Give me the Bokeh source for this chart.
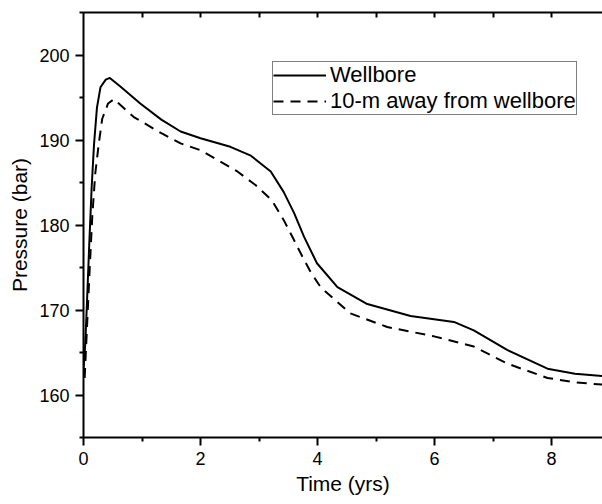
from bokeh.plotting import figure
from bokeh.models import Range1d, FixedTicker, LinearAxis, Legend, LegendItem
from bokeh.embed import file_html
from bokeh.resources import INLINE

# Data
t_well = [0.0, 0.03, 0.06, 0.10, 0.14, 0.18, 0.23, 0.29, 0.38, 0.45, 0.63, 0.97, 1.33, 1.66,
          2.0, 2.51, 2.85, 3.2, 3.42, 3.6, 3.77, 3.99, 4.34, 4.85, 5.59, 6.33, 6.67, 7.24,
          7.93, 8.4, 8.9]
p_well = [163.0, 166.0, 171.0, 178.0, 184.5, 189.5, 193.8, 196.2, 197.1, 197.3, 196.3, 194.3,
          192.4, 191.0, 190.2, 189.2, 188.2, 186.3, 183.9, 181.4, 178.6, 175.5, 172.7, 170.7,
          169.3, 168.6, 167.6, 165.3, 163.1, 162.5, 162.2]

t_away = [0.02, 0.06, 0.10, 0.15, 0.20, 0.26, 0.32, 0.42, 0.52, 0.86, 1.33, 1.66, 2.0, 2.63,
          2.94, 3.22, 3.42, 3.6, 3.74, 3.88, 4.05, 4.56, 5.19, 5.99, 6.67, 7.24, 7.93, 8.4, 8.9]
p_away = [162.0, 168.0, 174.0, 181.0, 186.0, 189.5, 192.5, 194.3, 194.8, 192.7, 190.8, 189.6,
          188.8, 186.3, 184.7, 182.9, 180.6, 178.2, 176.3, 174.5, 172.7, 169.6, 168.0, 166.9,
          165.7, 163.7, 162.0, 161.5, 161.2]

x_ticks = [0, 2, 4, 6, 8]
x_minor = [1, 3, 5, 7]
top_ticks = [1, 2, 3, 4, 5, 6, 7, 8]
y_ticks = [160, 170, 180, 190, 200]
y_minor = [155, 165, 175, 185, 195, 205]

FONT = "Liberation Sans"

p = figure(width=602, height=504, output_backend="svg", toolbar_location=None,
           x_range=Range1d(0, 8.87), y_range=Range1d(155, 205),
           min_border_left=83, min_border_right=0, min_border_top=12, min_border_bottom=67)
p.grid.visible = False
p.outline_line_color = None
p.background_fill_color = "white"
p.border_fill_color = "white"

r1 = p.line(t_well, p_well, line_color="black", line_width=2)
r2 = p.line(t_away, p_away, line_color="black", line_width=2, line_dash="10 7")

p.xaxis.ticker = FixedTicker(ticks=x_ticks, minor_ticks=x_minor)
p.yaxis.ticker = FixedTicker(ticks=y_ticks, minor_ticks=y_minor)
p.xaxis.axis_label = "Time (yrs)"
p.yaxis.axis_label = "Pressure (bar)"

for ax in (p.xaxis[0], p.yaxis[0]):
    ax.axis_line_width = 2
    ax.axis_line_color = "black"
    ax.major_tick_line_width = 2
    ax.minor_tick_line_width = 2
    ax.major_tick_line_color = "black"
    ax.minor_tick_line_color = "black"
    ax.major_tick_out = 8
    ax.major_tick_in = 0
    ax.minor_tick_out = 4
    ax.minor_tick_in = 0
    ax.major_label_text_font = FONT
    ax.major_label_text_font_size = "18px"
    ax.major_label_text_color = "black"
    ax.axis_label_text_font = FONT
    ax.axis_label_text_font_size = "21px"
    ax.axis_label_text_font_style = "normal"
    ax.axis_label_text_color = "black"
p.xaxis.major_label_standoff = 6
p.xaxis.axis_label_standoff = 4
p.yaxis.major_label_standoff = 6
p.yaxis.axis_label_standoff = 5

top = LinearAxis(ticker=FixedTicker(ticks=[], minor_ticks=top_ticks),
                 axis_line_width=2, axis_line_color="black",
                 minor_tick_line_width=2, minor_tick_line_color="black",
                 minor_tick_in=5, minor_tick_out=0, major_tick_in=0, major_tick_out=0)
p.add_layout(top, "above")

legend = Legend(items=[LegendItem(label="Wellbore", renderers=[r1]),
                       LegendItem(label="10-m away from wellbore", renderers=[r2])],
                location=(189, 322))
legend.border_line_color = "black"
legend.border_line_width = 1
legend.background_fill_color = "white"
legend.background_fill_alpha = 1
legend.label_text_font = FONT
legend.label_text_font_size = "22px"
legend.label_text_color = "black"
legend.glyph_width = 53
legend.glyph_height = 22
legend.label_height = 22
legend.label_standoff = 4
legend.padding = 0
legend.spacing = 0
legend.margin = 0
p.add_layout(legend, "center")

open("out.html", "w").write(file_html(p, INLINE))
